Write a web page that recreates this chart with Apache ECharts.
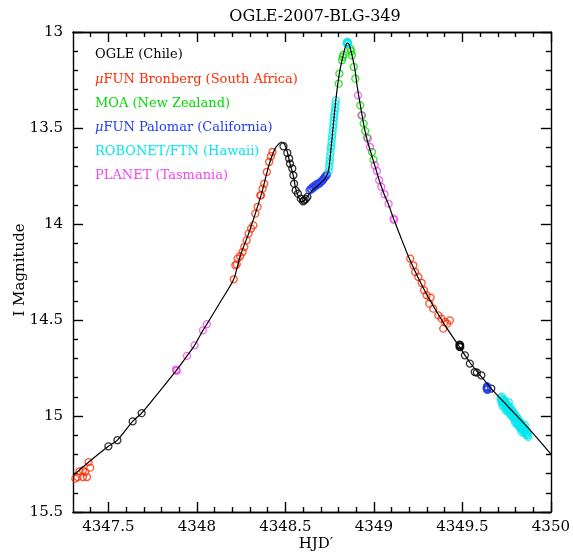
<!DOCTYPE html>
<html>
<head>
<meta charset="utf-8">
<script src="https://cdn.jsdelivr.net/npm/echarts@6/dist/echarts.min.js"></script>
<style>
  html, body { margin: 0; padding: 0; background: #fff; }
  #chart { width: 573px; height: 556px; }
</style>
</head>
<body>
<div id="chart"></div>
<script>
// OGLE-2007-BLG-349 light curve: I magnitude against HJD′ for six observatories
const chartTitle = 'OGLE-2007-BLG-349';
const xName = 'HJD′';
const yName = 'I Magnitude';

// x-axis range and tick positions
const xMin = 4347.3;
const xMax = 4350;
const xMajorTicks = [4347.5, 4348, 4348.5, 4349, 4349.5, 4350];
const xMinorTicks = [4347.4, 4347.6, 4347.7, 4347.8, 4347.9, 4348.1, 4348.2, 4348.3, 4348.4,
  4348.6, 4348.7, 4348.8, 4348.9, 4349.1, 4349.2, 4349.3, 4349.4, 4349.6, 4349.7, 4349.8, 4349.9];

// y-axis range (magnitude, brighter upward)
const yMin = 13;
const yMax = 15.5;
const yStep = 0.5;

// model light curve [HJD′, I]
const model = [
  [4347.302, 15.309], [4347.388, 15.241], [4347.5, 15.158], [4347.551, 15.126], [4347.637, 15.028],
  [4347.688, 14.985], [4347.79, 14.870], [4347.884, 14.762], [4347.944, 14.687], [4347.987, 14.632],
  [4348.034, 14.554], [4348.056, 14.522], [4348.133, 14.405], [4348.208, 14.288], [4348.244, 14.168],
  [4348.292, 14.050], [4348.33, 13.946], [4348.371, 13.822], [4348.408, 13.690], [4348.44, 13.610],
  [4348.465, 13.580], [4348.478, 13.573], [4348.495, 13.585], [4348.511, 13.625], [4348.526, 13.686],
  [4348.545, 13.750], [4348.558, 13.815], [4348.575, 13.862], [4348.598, 13.886], [4348.62, 13.862],
  [4348.65, 13.826], [4348.69, 13.795], [4348.72, 13.768], [4348.736, 13.742], [4348.745, 13.715],
  [4348.752, 13.660], [4348.76, 13.585], [4348.77, 13.490], [4348.786, 13.345], [4348.805, 13.215],
  [4348.824, 13.130], [4348.838, 13.080], [4348.85, 13.057], [4348.862, 13.070], [4348.876, 13.120],
  [4348.892, 13.190], [4348.905, 13.280], [4348.923, 13.380], [4348.942, 13.480], [4348.961, 13.560],
  [4348.98, 13.620], [4349.0, 13.680], [4349.03, 13.772], [4349.06, 13.850], [4349.083, 13.900],
  [4349.111, 13.972], [4349.15, 14.065], [4349.2, 14.180], [4349.25, 14.280], [4349.3, 14.370],
  [4349.36, 14.465], [4349.41, 14.540], [4349.476, 14.630], [4349.541, 14.720], [4349.607, 14.795],
  [4349.663, 14.857], [4349.757, 14.950], [4349.869, 15.059], [4350.0, 15.198]
];

// photometry per observatory [HJD′, I]
const ogle = [
  [4347.500, 15.158], [4347.551, 15.126], [4347.637, 15.028], [4347.688, 14.985],
  [4348.489, 13.595], [4348.511, 13.630], [4348.521, 13.659], [4348.526, 13.686], [4348.539, 13.711],
  [4348.545, 13.746], [4348.549, 13.790], [4348.558, 13.825], [4348.571, 13.842], [4348.587, 13.868],
  [4348.600, 13.882], [4348.605, 13.877], [4348.615, 13.870], [4348.624, 13.859],
  [4349.483, 14.628], [4349.486, 14.636], [4349.488, 14.641], [4349.484, 14.640], [4349.487, 14.630],
  [4349.514, 14.684], [4349.542, 14.727], [4349.570, 14.771], [4349.582, 14.774], [4349.607, 14.788],
  [4349.663, 14.857]
];
const bronberg = [
  [4347.313, 15.326], [4347.326, 15.318], [4347.337, 15.288], [4347.356, 15.283], [4347.369, 15.292],
  [4347.356, 15.318], [4347.379, 15.318], [4347.388, 15.240], [4347.397, 15.269],
  [4348.208, 14.288], [4348.217, 14.215], [4348.225, 14.210], [4348.230, 14.180], [4348.244, 14.168],
  [4348.258, 14.146], [4348.268, 14.120], [4348.281, 14.085], [4348.292, 14.050], [4348.306, 14.024],
  [4348.319, 14.007], [4348.330, 13.946], [4348.343, 13.911], [4348.358, 13.851], [4348.362, 13.850],
  [4348.371, 13.816], [4348.380, 13.790], [4348.395, 13.729], [4348.408, 13.677], [4348.418, 13.647],
  [4348.427, 13.625],
  [4349.205, 14.180], [4349.223, 14.215], [4349.233, 14.250], [4349.251, 14.276], [4349.270, 14.307],
  [4349.283, 14.345], [4349.298, 14.371], [4349.320, 14.383], [4349.313, 14.415], [4349.335, 14.441],
  [4349.364, 14.476], [4349.382, 14.493], [4349.401, 14.510], [4349.429, 14.502], [4349.392, 14.545],
  [4349.414, 14.519]
];
const moa = [
  [4348.801, 13.269], [4348.805, 13.217], [4348.820, 13.147], [4348.824, 13.130], [4348.828, 13.118],
  [4348.867, 13.087], [4348.872, 13.100], [4348.876, 13.121], [4348.886, 13.182], [4348.895, 13.243],
  [4348.923, 13.382], [4348.933, 13.434], [4348.942, 13.477], [4348.951, 13.516], [4348.961, 13.550],
  [4348.989, 13.625], [4348.998, 13.665]
];
const palomar = [
  [4348.636, 13.826], [4348.642, 13.818], [4348.648, 13.820], [4348.653, 13.808], [4348.660, 13.810],
  [4348.665, 13.800], [4348.671, 13.803], [4348.676, 13.792], [4348.683, 13.795], [4348.689, 13.786],
  [4348.695, 13.788], [4348.702, 13.778], [4348.708, 13.776], [4348.713, 13.768], [4348.719, 13.762],
  [4348.724, 13.754], [4348.730, 13.750], [4348.735, 13.742],
  [4349.638, 14.850], [4349.640, 14.858], [4349.642, 14.864], [4349.639, 14.845], [4349.637, 14.856],
  [4349.641, 14.851], [4349.639, 14.861]
];
const robonet = [
  [4348.745, 13.726], [4348.747, 13.703], [4348.749, 13.685], [4348.751, 13.667], [4348.753, 13.645],
  [4348.755, 13.627], [4348.757, 13.606], [4348.759, 13.592], [4348.761, 13.573], [4348.763, 13.553],
  [4348.765, 13.535], [4348.767, 13.516], [4348.769, 13.497], [4348.771, 13.480], [4348.773, 13.462],
  [4348.775, 13.444], [4348.777, 13.427], [4348.779, 13.410], [4348.781, 13.392], [4348.783, 13.373],
  [4348.785, 13.356],
  [4348.848, 13.055], [4348.850, 13.058], [4348.852, 13.054], [4348.851, 13.062], [4348.849, 13.060],
  [4348.850, 13.052], [4348.853, 13.058], [4348.847, 13.058], [4348.850, 13.063],
  [4349.716, 14.905], [4349.720, 14.926], [4349.723, 14.899], [4349.727, 14.937], [4349.731, 14.914],
  [4349.735, 14.942], [4349.739, 14.921], [4349.742, 14.956], [4349.746, 14.931], [4349.750, 14.964],
  [4349.754, 14.941], [4349.757, 14.977], [4349.761, 14.948], [4349.765, 14.986], [4349.769, 14.957],
  [4349.772, 14.993], [4349.776, 14.966], [4349.780, 15.002], [4349.784, 14.973], [4349.788, 15.011],
  [4349.791, 14.986], [4349.795, 15.019], [4349.799, 14.994], [4349.803, 15.032], [4349.806, 15.006],
  [4349.810, 15.041], [4349.814, 15.013], [4349.818, 15.046], [4349.822, 15.027], [4349.825, 15.061],
  [4349.829, 15.034], [4349.833, 15.066], [4349.837, 15.046], [4349.840, 15.077], [4349.844, 15.053],
  [4349.848, 15.086], [4349.852, 15.066], [4349.856, 15.094], [4349.860, 15.074], [4349.864, 15.101],
  [4349.868, 15.089], [4349.872, 15.108],
  [4349.718, 14.916], [4349.725, 14.918], [4349.733, 14.928], [4349.741, 14.938], [4349.748, 14.948],
  [4349.756, 14.958], [4349.763, 14.967], [4349.771, 14.975], [4349.778, 14.984], [4349.786, 14.992],
  [4349.793, 15.003], [4349.801, 15.012], [4349.808, 15.022], [4349.816, 15.030], [4349.823, 15.043],
  [4349.831, 15.050], [4349.838, 15.061], [4349.846, 15.070], [4349.854, 15.080], [4349.862, 15.088],
  [4349.870, 15.098], [4349.726, 14.948], [4349.744, 14.970], [4349.762, 14.928], [4349.780, 14.981],
  [4349.798, 15.036], [4349.816, 15.052], [4349.834, 15.084], [4349.852, 15.045]
];
const planet = [
  [4347.884, 14.762], [4347.886, 14.765], [4347.882, 14.758], [4347.944, 14.687], [4347.987, 14.632],
  [4348.034, 14.554], [4348.056, 14.522],
  [4348.910, 13.330], [4348.929, 13.434], [4348.966, 13.555], [4348.978, 13.599], [4349.004, 13.694],
  [4349.017, 13.724], [4349.030, 13.772], [4349.042, 13.807], [4349.060, 13.845], [4349.083, 13.894],
  [4349.111, 13.972], [4349.114, 13.978]
];

// legend entries, drawn top to bottom
const legendLabels = ['OGLE (Chile)', 'μFUN Bronberg (South Africa)', 'MOA (New Zealand)',
  'μFUN Palomar (California)', 'ROBONET/FTN (Hawaii)', 'PLANET (Tasmania)'];
const legendColors = ['#000000', '#ff2a00', '#00dc00', '#1e3cf0', '#00e8ee', '#f046f0'];
const datasets = [ogle, bronberg, moa, palomar, robonet, planet];

const FONT = 'DejaVu Serif';
const ink = { color: '#000', width: 1.4 };

function xAxisDef(position, ticks, len, withLabels) {
  return {
    type: 'value', position: position, min: xMin, max: xMax,
    axisLine: { show: true, onZero: false, lineStyle: ink },
    axisTick: { show: true, inside: true, length: len, customValues: ticks, lineStyle: ink },
    axisLabel: withLabels
      ? { show: true, customValues: ticks, margin: 8, color: '#000', fontFamily: FONT, fontSize: 15,
          formatter: v => String(+v.toFixed(1)) }
      : { show: false },
    splitLine: { show: false }
  };
}
function yAxisDef(position, withLabels) {
  return {
    type: 'value', position: position, inverse: true, min: yMin, max: yMax, interval: yStep,
    axisLine: { show: true, onZero: false, lineStyle: ink },
    axisTick: { show: true, inside: true, length: 10, lineStyle: ink },
    minorTick: { show: true, splitNumber: 5, length: 5, lineStyle: ink },
    axisLabel: withLabels
      ? { show: true, margin: 10, color: '#000', fontFamily: FONT, fontSize: 15 }
      : { show: false },
    splitLine: { show: false },
    minorSplitLine: { show: false }
  };
}

const series = [{
  type: 'line', data: model, xAxisIndex: 0, yAxisIndex: 0,
  showSymbol: false, smooth: 0.25, z: 3, silent: true,
  lineStyle: { color: '#000', width: 1.2 }
}];
datasets.forEach((d, i) => {
  series.push({
    type: 'scatter', name: legendLabels[i], data: d, xAxisIndex: 0, yAxisIndex: 0,
    symbol: 'circle', symbolSize: 7, z: 2,
    itemStyle: { color: 'rgba(0,0,0,0)', borderColor: legendColors[i], borderWidth: 1.3 }
  });
});

const graphics = [
  { type: 'text', x: 315, y: 17, style: { text: chartTitle, fill: '#000', fontFamily: FONT, fontSize: 16,
      align: 'center', verticalAlign: 'middle' } },
  { type: 'text', x: 316, y: 544, style: { text: xName, fill: '#000', fontFamily: FONT, fontSize: 15,
      align: 'center', verticalAlign: 'middle' } },
  { type: 'text', x: 20, y: 270, rotation: Math.PI / 2, style: { text: yName, fill: '#000', fontFamily: FONT,
      fontSize: 15, align: 'center', verticalAlign: 'middle' } }
];
legendLabels.forEach((label, i) => {
  graphics.push({
    type: 'text', x: 95, y: 55 + i * 24.2,
    style: {
      text: label.replace('μ', '{mu|μ}'), fill: legendColors[i], fontFamily: FONT, fontSize: 13,
      align: 'left', verticalAlign: 'middle',
      rich: { mu: { fontFamily: FONT, fontSize: 13, fontStyle: 'italic', fill: legendColors[i] } }
    }
  });
});

const chart = echarts.init(document.getElementById('chart'), null, { renderer: 'canvas' });
chart.setOption({
  animation: false,
  backgroundColor: '#fff',
  grid: { left: 73, right: 19, top: 32, bottom: 44, containLabel: false },
  xAxis: [
    xAxisDef('bottom', xMajorTicks, 10, true),
    xAxisDef('bottom', xMinorTicks, 5, false),
    xAxisDef('top', xMajorTicks, 10, false),
    xAxisDef('top', xMinorTicks, 5, false)
  ],
  yAxis: [yAxisDef('left', true), yAxisDef('right', false)],
  graphic: graphics,
  series: series
});
</script>
</body>
</html>
